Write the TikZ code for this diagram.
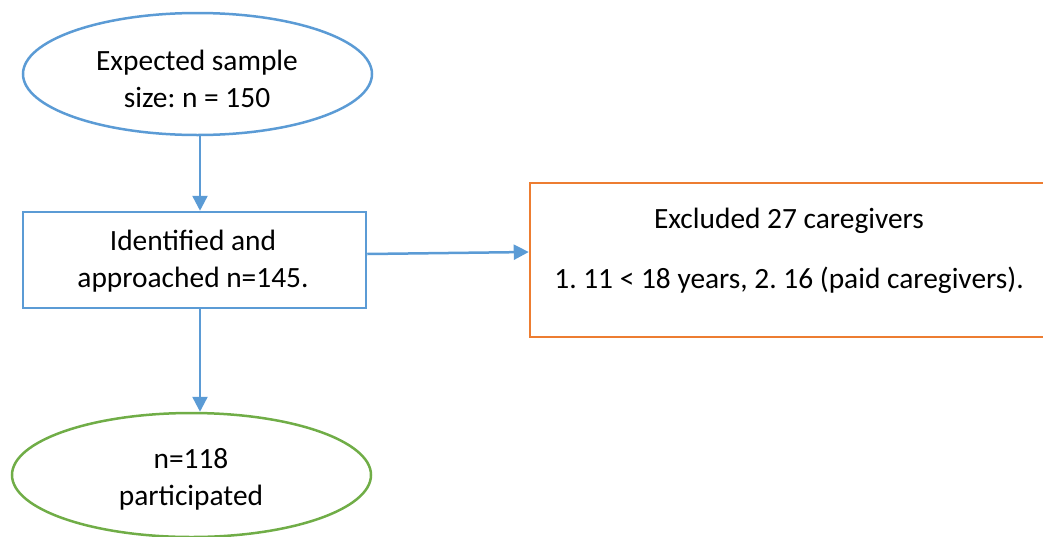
\documentclass[tikz,border=0pt]{standalone}
\usepackage{fontspec}
\setmainfont{Carlito}
\frenchspacing
\usepackage{xcolor}
\definecolor{flowblue}{HTML}{5B9BD5}
\definecolor{flowgreen}{HTML}{70AD47}
\definecolor{floworange}{HTML}{ED7D31}
\usepackage{tikz}
\usetikzlibrary{arrows.meta,shapes.geometric}

\begin{document}
\begin{tikzpicture}[x=1pt, y=-1pt,
    oval/.style={ellipse, draw=#1, line width=2.5pt, inner sep=0pt},
    box/.style={rectangle, draw=#1, line width=2.5pt, inner sep=0pt},
    words/.style={font=\fontsize{29.4}{37}\selectfont, align=center, anchor=base, inner sep=0pt},
    flow/.style={draw=flowblue, line width=2.5pt, -{Triangle[length=15pt, width=15pt]}}]
  \clip (0,0) rectangle (1043,536);
  % shapes
  \node[oval=flowblue, minimum width=349pt, minimum height=122pt] (expected) at (197.5,74) {};
  \node[box=flowblue, minimum width=343pt, minimum height=96pt] (identified) at (194.5,260) {};
  \node[box=floworange, minimum width=518pt, minimum height=154pt] (excluded) at (789,260) {};
  \node[oval=flowgreen, minimum width=359pt, minimum height=124pt] (participated) at (191.5,475) {};
  % texts (base = last line)
  \node[words] (expectedtext) at (197,107) {Expected sample\\size: n = 150};
  \node[words] (identifiedtext) at (193,287) {Identified and\\approached n=145.};
  \node[words] (excludedtext) at (789,288) {Excluded 27 caregivers\\[23pt]1. 11 < 18 years, 2. 16 (paid caregivers).};
  \node[words] (participatedtext) at (191,505) {n=118\\participated};
  % arrows
  \draw[flow] ([xshift=2.5pt]expected.south) -- ([xshift=5.5pt]identified.north);
  \draw[flow] ([xshift=5.5pt]identified.south) -- ([xshift=8.5pt]participated.north);
  \draw[flow] ([yshift=6pt]identified.east) -- ([yshift=8pt]excluded.west);
\end{tikzpicture}
\end{document}
